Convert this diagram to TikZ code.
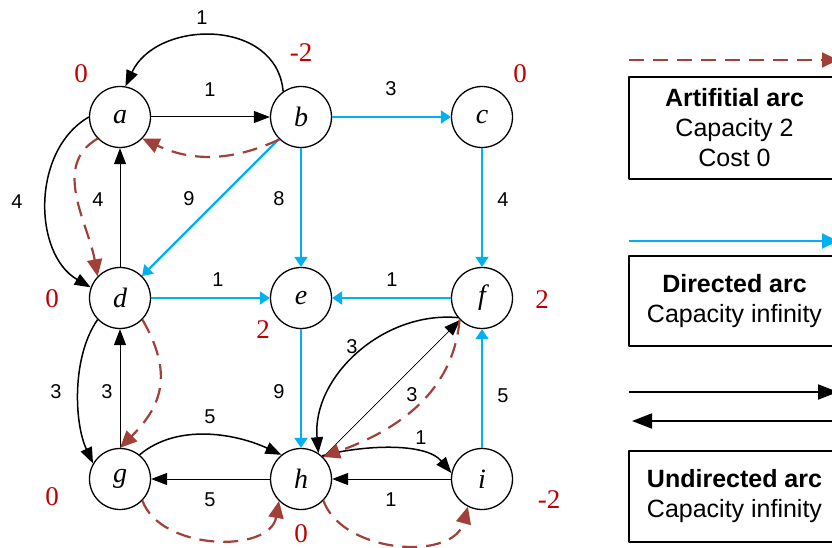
\documentclass[tikz,border=0pt]{standalone}
\usepackage{fontspec}
\setmainfont{Liberation Serif}
\newfontfamily\arial{Liberation Sans}
\usetikzlibrary{arrows.meta}
\definecolor{artred}{RGB}{160,64,56}
\definecolor{dirblue}{RGB}{0,176,240}
\definecolor{supred}{RGB}{192,0,0}
\begin{document}
\begin{tikzpicture}[x=1pt, y=1pt, line join=round,
		vertex/.style={circle, draw, line width=1.3pt, minimum size=61pt, inner sep=0pt, font=\fontsize{28}{28}\selectfont\itshape},
		cost/.style={inner sep=0pt, font=\arial\fontsize{20}{20}\selectfont},
		supply/.style={inner sep=0pt, text=supred, font=\fontsize{27}{27}\selectfont},
		straight/.style={line width=1pt, -{Triangle[length=16pt,width=12pt]}},
		bent/.style={line width=1.5pt, -{Triangle[length=16pt,width=12pt]}},
		dir/.style={dirblue, line width=2.2pt, -{Triangle[length=10pt,width=13pt]}},
		artif/.style={artred, line width=2.2pt, dash pattern=on 15pt off 9pt, -{Triangle[length=17pt,width=15pt]}},
		legbox/.style={draw, line width=2pt, minimum width=211pt, align=center, font=\arial\fontsize{25}{30}\selectfont}]
	\clip (0,0) rectangle (832,547);
	% nodes on a 3x3 grid
	\foreach \n/\x/\y in {a/120/430, b/301/430, c/482/430, d/120/249, e/301/249, f/482/249, g/120/68, h/301/68, i/482/68}
		\node[vertex] (\n) at (\x,\y) {\n};
	% supplies / demands
	\foreach \n/\x/\y/\v in {a/81/473/0, b/301/494/-2, c/520/473/0, d/52/248/0, e/263/217/2, f/542/247/2, g/52/50/0, h/301/13/0, i/549/47/-2}
		\node[supply] (s\n) at (\x,\y) {\v};
	% costs
	\foreach \x/\y/\v [count=\k] in {202/529/1, 210/457/1, 391/458/3, 17/345/4, 98/347/4, 189/348/9, 279/348/8, 503/347/4, 218/267/1, 392/267/1,
			56/155/3, 107/155/3, 279/155/9, 352/200/3, 412/152/3, 503/151/5, 210/130/5, 421/109/1, 210/47/5, 391/47/1}
		\node[cost] (w\k) at (\x,\y) {\v};
	% undirected arcs (one arc each way)
	\draw[straight] (a) -- (b);
	\draw[bent] (b.125) to[out=95,in=65,looseness=1.2] (a.80);
	\draw[straight] (d) -- (a);
	\draw[bent] (a.180) to[out=210,in=150] (d.160);
	\draw[straight] (g) -- (d);
	\draw[bent] (d.224) to[out=235,in=115,looseness=0.8] (g.150);
	\draw[straight] (h) -- (g);
	\draw[bent] (g.51) to[out=40,in=155,looseness=0.9] (h.129);
	\draw[straight] (i) -- (h);
	\draw[bent] (h.48) to[out=15,in=130,looseness=0.8] (i.169);
	\draw[straight, line width=0.7pt] (h) -- (f);
	\draw[bent] (f.219) to[out=175,in=95] (h.56);
	% directed arcs
	\foreach \s/\t in {b/c, b/e, b/d, c/f, d/e, f/e, e/h, i/f}
		\draw[dir] (\s) -- (\t);
	% artificial arcs
	\draw[artif] (b.226) to[out=205,in=-25] (a.-44);
	\draw[artif] (a.224) to[out=210,in=100] (d.136);
	\draw[artif] (d.-44) to[out=-60,in=45,looseness=1.2] (g.90);
	\draw[artif] (g.-44) to[out=-70,in=-100] (h.225);
	\draw[artif] (h.-44) to[out=-70,in=-105] (i.243);
	\draw[artif] (f.224) to[out=-95,in=20] (h.45);
	% legend
	\coordinate (artL) at (629,487); \coordinate (artR) at (838,487);
	\coordinate (dirL) at (629,306); \coordinate (dirR) at (838,306);
	\coordinate (undL) at (629,155); \coordinate (undR) at (838,155);
	\coordinate (revR) at (838,126); \coordinate (revL) at (632,126);
	\draw[artif, -{Triangle[length=16pt,width=15pt]}] (artL) -- (artR);
	\node[legbox, minimum height=102pt] (artbox) at (734.5,419) {\textbf{Artifitial arc}\\Capacity 2\\Cost 0};
	\draw[dir, line width=2pt, -{Triangle[length=16pt,width=15pt]}] (dirL) -- (dirR);
	\node[legbox, minimum height=90pt] (dirbox) at (734.5,246) {\textbf{Directed arc}\\Capacity infinity};
	\draw[line width=2pt, -{Triangle[length=20pt,width=15pt]}] (undL) -- (undR);
	\draw[line width=2pt, -{Triangle[length=20pt,width=15pt]}] (revR) -- (revL);
	\node[legbox, minimum height=91pt] (undbox) at (734.5,50.5) {\textbf{Undirected arc}\\Capacity infinity};
\end{tikzpicture}
\end{document}
